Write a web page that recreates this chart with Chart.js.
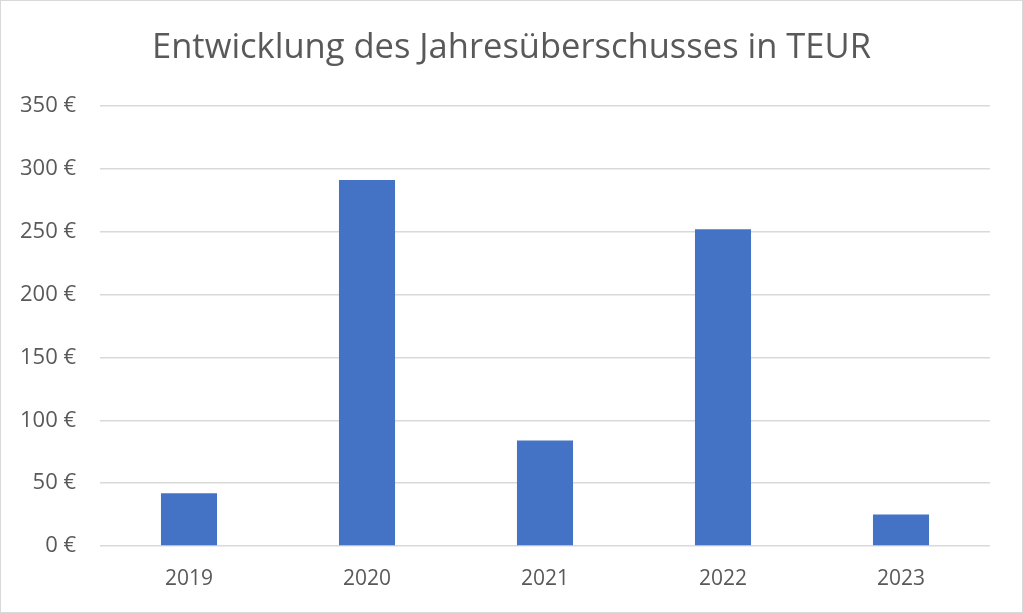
<!DOCTYPE html>
<html>
<head>
<meta charset="utf-8">
<script src="https://cdn.jsdelivr.net/npm/chart.js@4"></script>
<style>
    html, body { margin: 0; padding: 0; background: #fff; }
    .chart-box {
        width: 1023px;
        height: 613px;
        box-sizing: border-box;
        border: 1px solid #d9d9d9;
    }
    canvas { display: block; }
</style>
</head>
<body>
<div class="chart-box">
    <canvas id="myChart" width="1021" height="611"></canvas>
</div>
<script>
    // Werte (TEUR)
    const years = ['2019', '2020', '2021', '2022', '2023'];
    const surplus = [42, 291, 84, 252, 25];
    const chartTitle = 'Entwicklung des Jahresüberschusses in TEUR';

    const textColor = '#595959';
    const gridColor = '#d9d9d9';

    new Chart(document.getElementById('myChart'), {
        type: 'bar',
        data: {
            labels: years,
            datasets: [{
                label: 'Jahresüberschuss',
                data: surplus,
                backgroundColor: '#4472C4',
                barPercentage: 0.315,
                categoryPercentage: 1
            }]
        },
        options: {
            responsive: false,
            animation: false,
            plugins: {
                legend: { display: false },
                tooltip: { enabled: false },
                title: {
                    display: true,
                    text: chartTitle,
                    color: textColor,
                    font: { family: 'Open Sans', size: 34.5, weight: 'normal' },
                    padding: { top: 26.5, bottom: 37 }
                }
            },
            scales: {
                x: {
                    grid: { display: false, drawTicks: false },
                    border: { display: false },
                    ticks: {
                        color: textColor,
                        font: { family: 'Open Sans', size: 21 },
                        padding: 20
                    },
                    afterFit: function (scale) { scale.height = 66; }
                },
                y: {
                    min: 0,
                    max: 350,
                    grid: { color: gridColor, lineWidth: 1.5, drawTicks: false },
                    border: { display: false },
                    ticks: {
                        stepSize: 50,
                        color: textColor,
                        font: { family: 'Open Sans', size: 22 },
                        padding: 24,
                        callback: function (v) { return v + ' €'; }
                    },
                    afterFit: function (scale) { scale.width = 99; }
                },
                // leere Achse rechts, nur als Rand (Titel bleibt mittig)
                yRight: {
                    position: 'right',
                    grid: { display: false, drawTicks: false },
                    border: { display: false },
                    ticks: { display: false },
                    afterFit: function (scale) { scale.width = 32; }
                }
            }
        }
    });
</script>
</body>
</html>
